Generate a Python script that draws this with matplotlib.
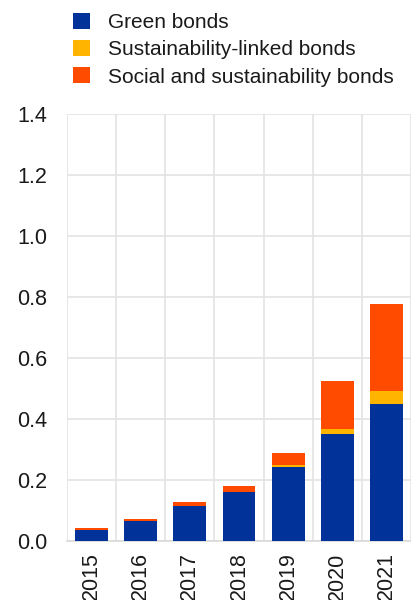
import matplotlib.pyplot as plt
import numpy as np
from matplotlib.patches import Patch

# Data
years = ["2015", "2016", "2017", "2018", "2019", "2020", "2021"]
green = [0.037, 0.065, 0.115, 0.160, 0.242, 0.351, 0.450]
sustainability_linked = [0.0, 0.0, 0.0, 0.0, 0.009, 0.016, 0.041]
social_sustainability = [0.005, 0.008, 0.012, 0.020, 0.037, 0.157, 0.287]

labels = ["Green bonds", "Sustainability-linked bonds", "Social and sustainability bonds"]
colors = ["#003299", "#FFB400", "#FF4B00"]

plt.rcParams["font.family"] = ["Liberation Sans", "DejaVu Sans"]

fig = plt.figure(figsize=(4.11, 6.0), dpi=100)
ax = fig.add_axes([0.163, 0.098, 0.837, 0.712])

x = np.arange(len(years))
green = np.array(green)
slb = np.array(sustainability_linked)
social = np.array(social_sustainability)

ax.bar(x, green, width=0.67, color=colors[0], zorder=3)
ax.bar(x, slb, width=0.67, bottom=green, color=colors[1], zorder=3)
ax.bar(x, social, width=0.67, bottom=green + slb, color=colors[2], zorder=3)

ax.set_xlim(-0.5, len(years) - 0.5)
ax.set_ylim(0, 1.4)
ax.set_yticks(np.arange(0, 1.41, 0.2))
ax.set_yticklabels([f"{v:.1f}" for v in np.arange(0, 1.41, 0.2)])
ax.set_xticks(x)
ax.set_xticklabels(years, rotation=90)
ax.set_xticks(np.arange(-0.5, len(years), 1.0), minor=True)

# light grid, vertical lines sit between categories
ax.grid(axis="y", color="#e3e3e3", linewidth=1.2, zorder=0)
ax.grid(axis="x", which="minor", color="#e3e3e3", linewidth=1.2, zorder=0)
ax.tick_params(axis="both", which="both", length=0, labelsize=15.5, colors="#1a1a1a")
ax.tick_params(axis="x", pad=8)
ax.tick_params(axis="y", pad=14)
for s in ["top", "right", "left"]:
    ax.spines[s].set_visible(False)
ax.spines["bottom"].set_color("#d9d9d9")
ax.spines["bottom"].set_linewidth(1.2)

handles = [Patch(facecolor=c, edgecolor="none") for c in colors]
fig.legend(handles, labels, loc="upper left", bbox_to_anchor=(0.133, 1.01),
           frameon=False, fontsize=15, handlelength=0.82, handleheight=0.82,
           handletextpad=0.82, labelspacing=0.38, labelcolor="#1a1a1a")

fig.savefig("out.png", dpi=100)
